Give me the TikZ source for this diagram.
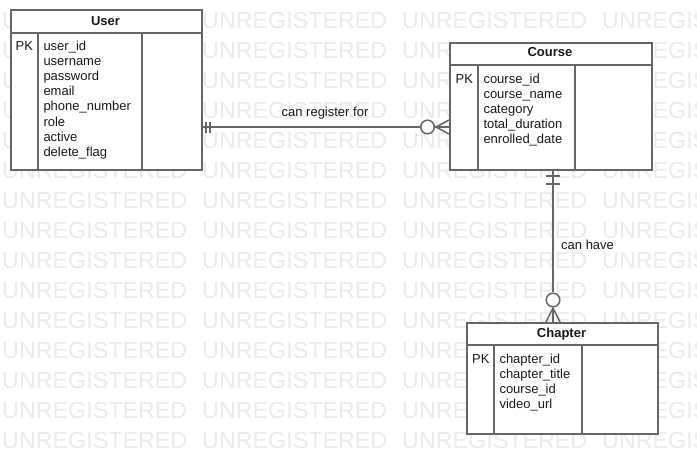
\documentclass[tikz,border=0pt]{standalone}
\usepackage{fontspec}
\setmainfont{Liberation Sans}
\definecolor{lc}{HTML}{666666}
\definecolor{tc}{HTML}{1A1A1A}
\begin{document}
\begin{tikzpicture}[x=1pt,y=-1pt,
  ent/.style={draw=lc, line width=1.5pt, fill=white, inner sep=0pt, anchor=north west},
  fld/.style={anchor=base west, inner sep=0pt, font=\fontsize{13}{15}\selectfont, text=tc},
  ttl/.style={anchor=base, inner sep=0pt, font=\fontsize{13}{15}\selectfont\bfseries, text=tc},
  lbl/.style={inner sep=0pt, font=\fontsize{13}{15}\selectfont, text=tc},
  wm/.style={anchor=base west, inner sep=0pt, font=\fontsize{23.3}{28}\selectfont, text=black!8},
  rel/.style={draw=lc, line width=1.5pt},
  zero/.style={circle, draw=lc, line width=1.5pt, fill=white, minimum size=13.6pt, inner sep=0pt}]
\useasboundingbox[fill=white] (0,0) rectangle (697,474);
% watermark
\foreach \k in {0,...,14}{
  \foreach \j in {0,...,3}{
    \node[wm] (wm-\k-\j) at (\j*200+2, 28.3+\k*30) {UNREGISTERED};
  }
}
% entities
\node[ent, minimum width=191pt, minimum height=160pt] (user) at (10,9) {};
\draw[rel] (10,33) -- (201,33) (38,33) -- (38,169) (142,33) -- (142,169);
\node[ttl] (user-t) at (105.5,25) {User};
\node[fld] (user-pk) at (15.5,50) {PK};
\foreach \f [count=\i from 0] in {user\_id,username,password,email,phone\_number,role,active,delete\_flag}{
  \node[fld] (user-f\i) at (43.3,50+\i*15.2) {\f};
}
\node[ent, minimum width=202pt, minimum height=127pt] (course) at (449,42) {};
\draw[rel] (449,65) -- (651,65) (478,65) -- (478,169) (575,65) -- (575,169);
\node[ttl] (course-t) at (550,56.7) {Course};
\node[fld] (course-pk) at (455.5,83) {PK};
\foreach \f [count=\i from 0] in {course\_id,course\_name,category,total\_duration,enrolled\_date}{
  \node[fld] (course-f\i) at (483.3,83+\i*15) {\f};
}
\node[ent, minimum width=191pt, minimum height=111pt] (chapter) at (466,322) {};
\draw[rel] (466,345) -- (657,345) (494,345) -- (494,433) (582,345) -- (582,433);
\node[ttl] (chapter-t) at (561.5,337.3) {Chapter};
\node[fld] (chapter-pk) at (472,363) {PK};
\foreach \f [count=\i from 0] in {chapter\_id,chapter\_title,course\_id,video\_url}{
  \node[fld] (chapter-f\i) at (499.3,363+\i*15) {\f};
}
% relation 1: user -- course
\coordinate (r1) at (0,127);
\node[zero] (z1) at (427.5,127) {};
\coordinate (f1) at (436,127);
\draw[rel] (user.east |- r1) -- (z1.west);
\draw[rel] (206,121.5) -- (206,132.5) (210,121.5) -- (210,132.5);
\draw[rel] (z1.east) -- (course.west |- r1);
\draw[rel] (course.west |- 0,120) -- (f1) -- (course.west |- 0,134);
\node[lbl, anchor=base] (l1) at (325,116.7) {can register for};
% relation 2: course -- chapter
\coordinate (r2) at (553,0);
\node[zero] (z2) at (553,300) {};
\coordinate (f2) at (553,308);
\draw[rel] (course.south -| r2) -- (z2.north);
\draw[rel] (546,176) -- (560,176) (546,184) -- (560,184);
\draw[rel] (z2.south) -- (chapter.north -| r2);
\draw[rel] (chapter.north -| 546,0) -- (f2) -- (chapter.north -| 560,0);
\node[lbl, anchor=base west] (l2) at (561,249.3) {can have};
\end{tikzpicture}
\end{document}
